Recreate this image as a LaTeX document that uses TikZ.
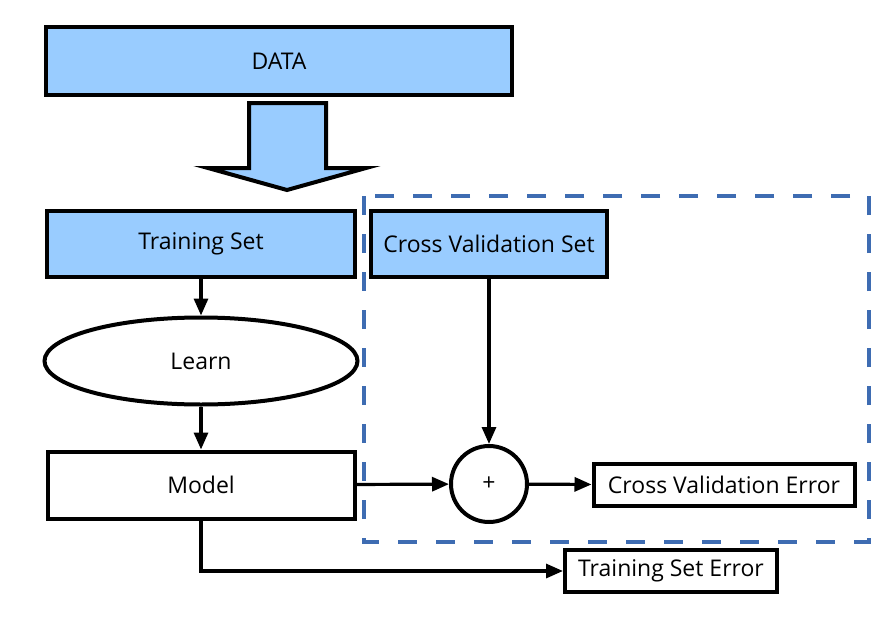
\documentclass[tikz,border=0pt]{standalone}
\usepackage{fontspec}
\setmainfont{Open Sans}
\usepackage{tikz}
\usetikzlibrary{arrows.meta, shapes.geometric}
\definecolor{lightblue}{RGB}{153, 204, 255}
\definecolor{dashblue}{RGB}{62, 108, 178}

\begin{document}
\begin{tikzpicture}[x=1pt, y=-1pt,
    box/.style={draw=black, line width=4, inner sep=0pt, font=\fontsize{23}{27}\selectfont},
    bluebox/.style={box, fill=lightblue},
    flow/.style={line width=3.2, -{Triangle[length=17pt, width=14pt]}}]
  \useasboundingbox[fill=white] (0, 0) rectangle (871, 624);

  \node[bluebox, minimum width=466, minimum height=68] (data) at (279, 61) {DATA};

  % block arrow from DATA down to the split
  \filldraw[draw=black, fill=lightblue, line width=4, line join=miter]
    (249, 103) -- (326, 103) -- (326, 168) -- (366, 168) -- (287, 190)
    -- (208, 168) -- (249, 168) -- cycle;

  \draw[dashblue, line width=3.5, dash pattern=on 19 off 19] (364, 196) rectangle (869, 542);

  \node[bluebox, minimum width=308, minimum height=66] (train) at (201, 244) {Training Set};
  \node[bluebox, minimum width=236, minimum height=66] (cvset) at (489, 244) {Cross Validation Set};

  \node[box, ellipse, minimum width=313, minimum height=87] (learn) at (201, 361) {Learn};
  \node[box, minimum width=307, minimum height=67] (model) at (201, 485) {Model};

  \node[box, circle, minimum size=76] (plus) at (489, 484) {+};
  \node[box, minimum width=261, minimum height=42] (cverr) at (724, 485) {Cross Validation Error};
  \node[box, minimum width=212, minimum height=42] (trerr) at (671, 571) {Training Set Error};

  \draw[flow] (train) -- (learn);
  \draw[flow] (learn) -- (model);
  \draw[flow] (cvset) -- (plus);
  \draw[flow] (model) -- (plus);
  \draw[flow] (plus) -- (cverr);
  \draw[flow] (model.south) |- (trerr);

\end{tikzpicture}
\end{document}
